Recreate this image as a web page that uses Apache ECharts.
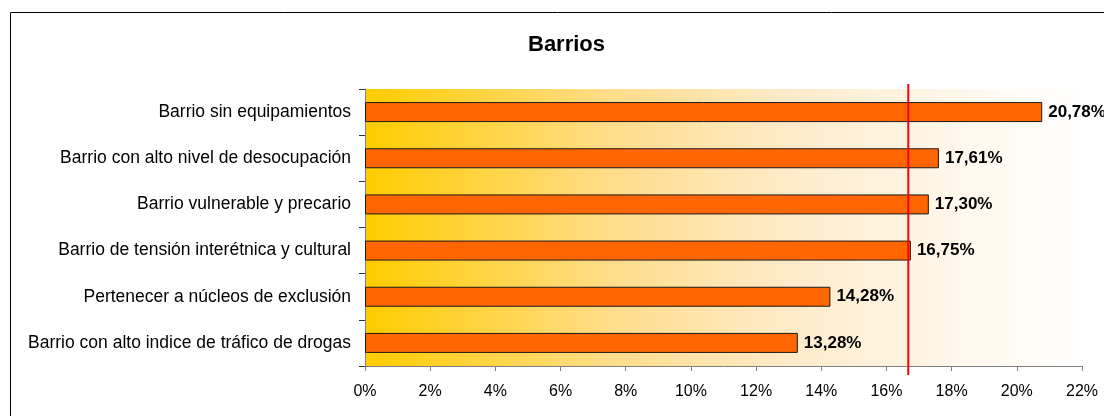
<!DOCTYPE html>
<html>
<head>
<meta charset="utf-8">
<script src="https://cdn.jsdelivr.net/npm/echarts@6/dist/echarts.min.js"></script>
<style>
html,body{margin:0;padding:0;background:#fff;}
#c{width:1104px;height:416px;}
</style>
</head>
<body>
<div id="c"></div>
<script>
const titleText = 'Barrios';
const categories = [
  'Barrio sin equipamientos',
  'Barrio con alto nivel de desocupación',
  'Barrio vulnerable y precario',
  'Barrio de tensión interétnica y cultural',
  'Pertenecer a núcleos de exclusión',
  'Barrio con alto indice de tráfico de drogas'
];
const values = [20.78, 17.61, 17.30, 16.75, 14.28, 13.28];
const averageLine = [16.67];
const xTicks = [0, 2, 4, 6, 8, 10, 12, 14, 16, 18, 20, 22];

const font = '"Liberation Sans", Arial, sans-serif';
const chart = echarts.init(document.getElementById('c'), null, {renderer: 'canvas'});
chart.setOption({
  animation: false,
  backgroundColor: '#ffffff',
  title: {
    text: titleText,
    left: 523,
    top: 29,
    textStyle: {fontFamily: font, fontSize: 22, fontWeight: 'bold', color: '#000'}
  },
  graphic: [{
    type: 'rect',
    shape: {x: 10.5, y: 12.5, width: 1200, height: 500},
    style: {fill: 'none', stroke: '#000', lineWidth: 1},
    silent: true,
    z: -10
  }],
  grid: {
    left: 365, right: 22, top: 89, bottom: 50,
    show: true,
    borderWidth: 0,
    backgroundColor: new echarts.graphic.LinearGradient(0, 0, 1, 0, [
      {offset: 0, color: '#FFCC00'},
      {offset: 0.35, color: '#FFDD8C'},
      {offset: 0.6, color: '#FFEBCB'},
      {offset: 0.8, color: '#FFF6E8'},
      {offset: 1, color: '#FFFFFF'}
    ])
  },
  xAxis: {
    type: 'value',
    min: xTicks[0],
    max: xTicks[xTicks.length - 1],
    interval: 2,
    splitLine: {show: false},
    axisLine: {show: true, lineStyle: {color: '#808080', width: 1}},
    axisTick: {show: true, length: 5, lineStyle: {color: '#808080'}},
    axisLabel: {
      margin: 18,
      fontFamily: font, fontSize: 16, color: '#000',
      formatter: v => v + '%'
    }
  },
  yAxis: {
    type: 'category',
    data: categories,
    inverse: true,
    axisLine: {show: true, lineStyle: {color: '#808080', width: 1}},
    axisTick: {show: true, length: 6, lineStyle: {color: '#333'}},
    axisLabel: {margin: 14, fontFamily: font, fontSize: 17.5, color: '#000'}
  },
  series: [{
    type: 'bar',
    data: values,
    barWidth: 20,
    itemStyle: {color: '#FF6600', borderColor: '#1a1a1a', borderWidth: 1},
    label: {
      show: true,
      position: 'right',
      distance: 6,
      fontFamily: font, fontSize: 17, fontWeight: 'bold', color: '#000',
      formatter: p => p.value.toFixed(2).replace('.', ',') + '%'
    }
  }, {
    type: 'custom',
    data: averageLine.map(v => [v, 0]),
    encode: {x: 0, y: 1},
    z: 5,
    renderItem: function (params, api) {
      const x = api.coord([api.value(0), 0])[0];
      const cs = params.coordSys;
      return {
        type: 'line',
        shape: {x1: x, y1: cs.y - 5, x2: x, y2: cs.y + cs.height + 9},
        style: {stroke: '#FF0000', lineWidth: 2}
      };
    }
  }]
});
</script>
</body>
</html>
